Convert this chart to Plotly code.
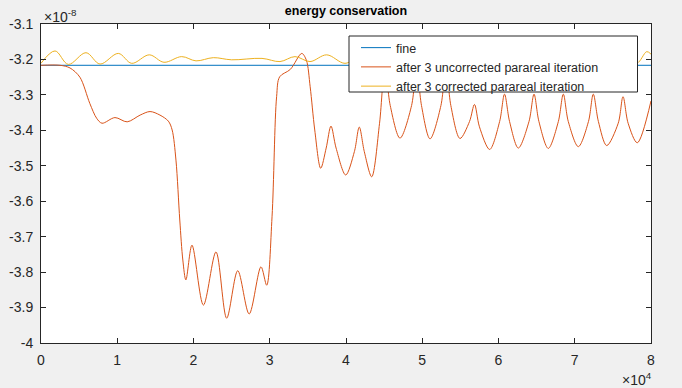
import plotly.graph_objects as go

# x in units of 1e4, y in units of 1e-8
fine_x = [0.0, 8.0]
fine_y = [-3.2165, -3.2165]

uncorr_x = [0.0, 0.25, 0.38, 0.51, 0.64, 0.73, 0.80, 0.97, 1.13, 1.30, 1.43, 1.56, 1.67,
            1.72, 1.77, 1.82, 1.86, 1.90, 1.98, 2.13, 2.295, 2.435, 2.58, 2.73, 2.885, 2.96,
            3.03, 3.09, 3.13, 3.27, 3.42, 3.48, 3.53, 3.59, 3.668,
            3.74, 3.803, 3.87, 3.996, 4.11, 4.174, 4.24, 4.337,
            4.44, 4.511, 4.58, 4.708, 4.86, 4.927, 4.99, 5.102, 5.245, 5.311, 5.375, 5.495,
            5.62, 5.685, 5.75, 5.884, 6.015, 6.079, 6.145, 6.26, 6.40, 6.466, 6.53, 6.653,
            6.785, 6.85, 6.915, 7.047, 7.18, 7.243, 7.31, 7.419, 7.57, 7.633, 7.70, 7.82, 8.0]
uncorr_y = [-3.2165, -3.2165, -3.224, -3.250, -3.324, -3.366, -3.380, -3.364, -3.376, -3.357, -3.347, -3.357, -3.374,
            -3.399, -3.484, -3.653, -3.766, -3.822, -3.724, -3.893, -3.743, -3.930, -3.796, -3.918, -3.785, -3.837,
            -3.644, -3.305, -3.249, -3.228, -3.183, -3.202, -3.277, -3.399, -3.507,
            -3.45, -3.388, -3.45, -3.526, -3.46, -3.391, -3.46, -3.531,
            -3.38, -3.22, -3.33, -3.422, -3.33, -3.22, -3.33, -3.424, -3.33, -3.22, -3.33, -3.423,
            -3.375, -3.327, -3.39, -3.454, -3.375, -3.298, -3.375, -3.450, -3.375, -3.298, -3.375, -3.451,
            -3.375, -3.298, -3.375, -3.446, -3.375, -3.298, -3.375, -3.443, -3.38, -3.305, -3.38, -3.435, -3.317]

corr_x = [0.0, 0.184, 0.358, 0.590, 0.774, 1.014, 1.190, 1.420, 1.613, 1.845, 2.033, 2.260, 2.50,
          2.898, 3.134, 3.331, 3.528, 3.747, 3.987, 4.20, 4.42, 4.64, 4.86, 5.08, 5.30, 5.52,
          5.74, 5.96, 6.18, 6.40, 6.62, 6.84, 7.06, 7.28, 7.50, 7.68, 7.817, 7.944, 8.0]
corr_y = [-3.211, -3.176, -3.214, -3.181, -3.213, -3.183, -3.211, -3.187, -3.208, -3.192, -3.204, -3.195, -3.201,
          -3.197, -3.206, -3.192, -3.206, -3.187, -3.211, -3.19, -3.21, -3.19, -3.21, -3.19, -3.21, -3.19,
          -3.21, -3.19, -3.21, -3.19, -3.21, -3.19, -3.21, -3.19, -3.21, -3.19, -3.21, -3.178, -3.185]

x_ticks = [0, 1, 2, 3, 4, 5, 6, 7, 8]
x_ticktext = ["0", "1", "2", "3", "4", "5", "6", "7", "8"]
y_ticks = [-4, -3.9, -3.8, -3.7, -3.6, -3.5, -3.4, -3.3, -3.2, -3.1]
y_ticktext = ["-4", "-3.9", "-3.8", "-3.7", "-3.6", "-3.5", "-3.4", "-3.3", "-3.2", "-3.1"]

names = ["fine", "after 3 uncorrected parareal iteration", "after 3 corrected parareal iteration"]
colors = ["#0072BD", "#D95319", "#EDB120"]

W, H = 682, 388
L, R, T, B = 41, 31, 24, 45
pw, ph = W - L - R, H - T - B

def px2paper_x(px):
    return (px - L) / pw

def px2paper_y(py):
    return (H - B - py) / ph

fig = go.Figure()
fig.add_trace(go.Scatter(x=fine_x, y=fine_y, mode="lines", name=names[0],
                         line=dict(color=colors[0], width=1)))
fig.add_trace(go.Scatter(x=uncorr_x, y=uncorr_y, mode="lines", name=names[1],
                         line=dict(color=colors[1], width=1, shape="spline", smoothing=0.9)))
fig.add_trace(go.Scatter(x=corr_x, y=corr_y, mode="lines", name=names[2],
                         line=dict(color=colors[2], width=1, shape="spline", smoothing=1.0)))

axcol = "#262626"
fig.update_layout(
    width=W, height=H,
    margin=dict(l=L, r=R, t=T, b=B, pad=0, autoexpand=False),
    paper_bgcolor="#f0f0f0",
    plot_bgcolor="#ffffff",
    font=dict(family="Liberation Sans, Arial, sans-serif", size=14, color=axcol),
    title=dict(text="<b>energy conservation</b>", x=0.5, xanchor="center",
               xref="paper", y=1 - 11 / H, yanchor="middle", yref="container",
               font=dict(size=12.5, color="#000000")),
    showlegend=True,
    legend=dict(x=px2paper_x(356), xanchor="left", y=px2paper_y(33), yanchor="top",
                bgcolor="rgba(0,0,0,0)", borderwidth=0,
                font=dict(size=12.5, color=axcol), tracegroupgap=0),
    shapes=[dict(type="rect", xref="paper", yref="paper",
                 x0=px2paper_x(349), x1=px2paper_x(637.5),
                 y0=px2paper_y(92), y1=px2paper_y(36),
                 fillcolor="#ffffff", line=dict(color=axcol, width=1), layer="above")],
    annotations=[
        dict(text="×10<sup>-8</sup>", xref="paper", yref="paper",
             x=px2paper_x(42), y=px2paper_y(16), xanchor="left", yanchor="middle",
             showarrow=False, font=dict(size=14, color=axcol)),
        dict(text="×10<sup>4</sup>", xref="paper", yref="paper",
             x=px2paper_x(654), y=px2paper_y(379), xanchor="right", yanchor="middle",
             showarrow=False, font=dict(size=14, color=axcol)),
    ],
)
fig.update_xaxes(range=[0, 8], tickvals=x_ticks, ticktext=x_ticktext, automargin=False,
                 showline=True, linecolor=axcol, linewidth=1, mirror="allticks",
                 ticks="inside", ticklen=5, tickcolor=axcol, showgrid=False, zeroline=False,
                 ticklabelstandoff=4)
fig.update_yaxes(range=[-4, -3.1], tickvals=y_ticks, ticktext=y_ticktext, automargin=False,
                 showline=True, linecolor=axcol, linewidth=1, mirror="allticks",
                 ticks="inside", ticklen=5, tickcolor=axcol, showgrid=False, zeroline=False,
                 ticklabelstandoff=4)

fig.write_html(
    "out.html",
    config={"displayModeBar": False},
    post_script="document.body.style.margin='0';document.body.style.background='#f0f0f0';",
)
